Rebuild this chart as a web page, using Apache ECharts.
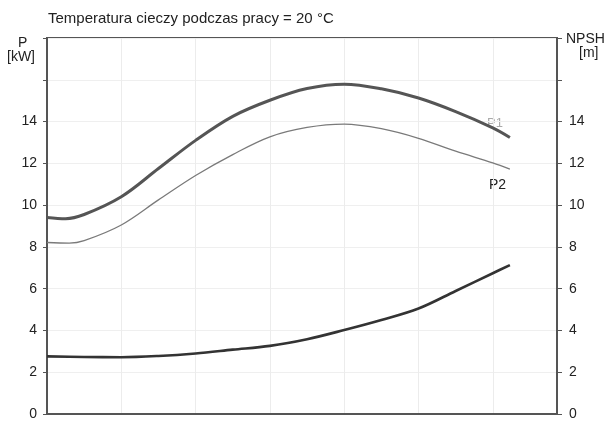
<!DOCTYPE html>
<html>
<head>
<meta charset="utf-8">
<script src="https://cdn.jsdelivr.net/npm/echarts@6/dist/echarts.min.js"></script>
<style>html,body{margin:0;padding:0;background:#fff}#c{width:610px;height:421px}</style>
</head>
<body>
<div id="c"></div>
<script>
const titleText = 'Temperatura cieczy podczas pracy = 20 °C';
const yTicksHidden = [16, 18];
const p1X = [0, 0.25, 0.5, 1.0, 1.5, 2.0, 2.5, 3.0, 3.5, 4.0, 4.5, 5.0, 5.5, 6.0, 6.23];
const p1Y = [9.41, 9.35, 9.55, 10.4, 11.75, 13.1, 14.25, 15.02, 15.58, 15.79, 15.57, 15.13, 14.48, 13.7, 13.24];
const p2X = [0, 0.3, 0.5, 1.0, 1.5, 2.0, 2.5, 3.0, 3.5, 4.0, 4.5, 5.0, 5.5, 6.0, 6.23];
const p2Y = [8.21, 8.18, 8.3, 9.05, 10.25, 11.42, 12.42, 13.27, 13.72, 13.88, 13.66, 13.2, 12.58, 12.02, 11.72];
const npshX = [0, 0.5, 1.0, 1.5, 2.0, 2.5, 3.0, 3.5, 4.0, 4.5, 5.0, 5.5, 6.0, 6.23];
const npshY = [2.76, 2.73, 2.72, 2.78, 2.9, 3.08, 3.26, 3.58, 4.02, 4.5, 5.05, 5.89, 6.74, 7.13];

const zip = (xs, ys) => xs.map((x, i) => [x, ys[i]]);
const chart = echarts.init(document.getElementById('c'));
const font = 'Liberation Sans, Arial, sans-serif';
const fmt = v => yTicksHidden.includes(v) ? '' : String(v);
chart.setOption({
  animation: false,
  grid: { left: 47, right: 53, top: 38, bottom: 5, show: true, borderColor: '#555', borderWidth: 2, backgroundColor: 'transparent' },
  xAxis: {
    type: 'value', min: 0, max: 6.864, interval: 1,
    axisLine: { show: true, lineStyle: { color: '#555', width: 2 } },
    axisTick: { show: false }, axisLabel: { show: false },
    splitLine: { show: true, lineStyle: { color: '#ececec', width: 1 } }
  },
  yAxis: [
    {
      type: 'value', min: 0, max: 18, interval: 2, position: 'left',
      axisLine: { show: true, lineStyle: { color: '#555', width: 2 } },
      axisTick: { show: true, length: 4, lineStyle: { color: '#555' } },
      axisLabel: { margin: 10, color: '#222', fontSize: 14, fontFamily: font, formatter: fmt },
      splitLine: { show: true, lineStyle: { color: '#efefef', width: 1 } }
    },
    {
      type: 'value', min: 0, max: 18, interval: 2, position: 'right',
      axisLine: { show: true, lineStyle: { color: '#555', width: 2 } },
      axisTick: { show: true, length: 5, lineStyle: { color: '#555' } },
      axisLabel: { margin: 12, color: '#222', fontSize: 14, fontFamily: font, formatter: fmt },
      splitLine: { show: false }
    }
  ],
  series: [
    { name: 'P1', type: 'line', yAxisIndex: 0, data: zip(p1X, p1Y), smooth: 0.35, showSymbol: false,
      lineStyle: { color: '#555', width: 3 } },
    { name: 'P2', type: 'line', yAxisIndex: 0, data: zip(p2X, p2Y), smooth: 0.35, showSymbol: false,
      lineStyle: { color: '#7a7a7a', width: 1.3 } },
    { name: 'NPSH', type: 'line', yAxisIndex: 1, data: zip(npshX, npshY), smooth: 0.35, showSymbol: false,
      lineStyle: { color: '#333', width: 2.6 } }
  ],
  graphic: [
    { type: 'text', left: 48, top: 11, style: { text: titleText, font: '15px ' + font, fill: '#222' } },
    { type: 'text', left: 18, top: 36, style: { text: 'P', font: '14px ' + font, fill: '#222' } },
    { type: 'text', left: 7, top: 50, style: { text: '[kW]', font: '14px ' + font, fill: '#222' } },
    { type: 'text', left: 566, top: 32, style: { text: 'NPSH', font: '14px ' + font, fill: '#222' } },
    { type: 'text', left: 579, top: 46, style: { text: '[m]', font: '14px ' + font, fill: '#222' } },
    { type: 'text', left: 487, top: 117, style: { text: 'P1', font: '13px ' + font, fill: '#aaa' } },
    { type: 'text', left: 489, top: 178, style: { text: 'P2', font: '14px ' + font, fill: '#222' } }
  ]
});
</script>
</body>
</html>
